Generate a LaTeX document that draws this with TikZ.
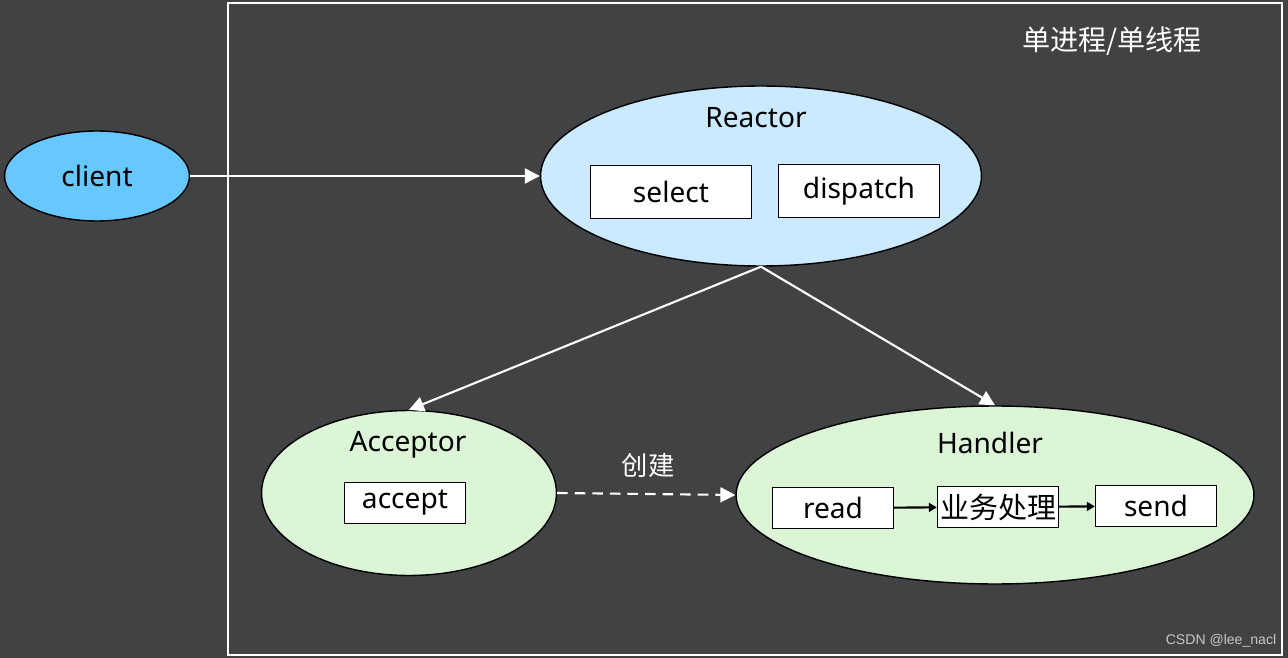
\documentclass[tikz,border=0pt]{standalone}
\usepackage{fontspec}
\setmainfont{Noto Sans}
\newfontfamily\cjk{Noto Sans CJK SC}
\newfontfamily\markfont{Liberation Sans}
\usetikzlibrary{arrows.meta,shapes.geometric,positioning}

\definecolor{bggray}{HTML}{414244}
\definecolor{clientblue}{HTML}{66C8FF}
\definecolor{reactorblue}{HTML}{CBEAFF}
\definecolor{workgreen}{HTML}{DCF5D7}

\begin{document}
\begin{tikzpicture}[x=0.02cm, y=-0.02cm,
		every node/.style={font=\fontsize{16}{19}\selectfont},
		blob/.style={ellipse, draw=black, line width=0.8pt, inner sep=0pt},
		box/.style={rectangle, draw=black, line width=0.8pt, fill=white, inner sep=0pt},
		bigbox/.style={box, minimum width=3.22cm, minimum height=1.06cm},
		smallbox/.style={box, minimum width=2.42cm, minimum height=0.82cm},
		flow/.style={draw=white, line width=1.2pt, -{Triangle[length=8.5pt,width=8.5pt]}},
		inner/.style={draw=black, line width=1.2pt, -{Triangle[length=4.5pt,width=5pt]}}]
		% background and frame
		\useasboundingbox (0,0) rectangle (1288,658);
		\fill[bggray] (0,0) rectangle (1288,658);
		\draw[white, line width=1.4pt] (228,3) rectangle (1282,655);
		\node[text=white, font=\cjk\fontsize{16}{19}\selectfont] (title) at (1112,41) {单进程/单线程};
		
		% ellipses
		\node[blob, fill=clientblue, minimum width=3.7cm, minimum height=1.8cm] (client) at (97,176) {client};
		\node[blob, fill=reactorblue, minimum width=8.82cm, minimum height=3.6cm] (reactor) at (761,176) {};
		\node[blob, fill=workgreen, minimum width=5.9cm, minimum height=3.3cm] (acceptor) at (409,493) {};
		\node[blob, fill=workgreen, minimum width=10.36cm, minimum height=3.56cm] (handler) at (995,495) {};
		
		% labels inside
		\node (reactorlbl) at (756,118) {Reactor};
		\node (acceptorlbl) at (408,445) {Acceptor};
		\node (handlerlbl) at (990,443) {Handler};
		
		% boxes
		\node[bigbox] (select) at (671,192) {select};
		\node[bigbox] (dispatch) at (859,191) {dispatch};
		\node[smallbox] (accept) at (405,503) {accept};
		\node[smallbox] (read) at (833,508) {read};
		\node[smallbox, font=\cjk\fontsize{16.5}{20}\selectfont] (work) at (998,507) {业务处理};
		\node[smallbox] (send) at (1156,506) {send};
		
		% connectors
		\draw[flow] (client) to (reactor);
		\draw[flow] (reactor.south) to (acceptor.north);
		\draw[flow] (reactor.south) to (handler.north);
		\draw[flow, dash pattern=on 6pt off 4pt] (acceptor.east) to (handler.west);
		\node[text=white, font=\cjk\fontsize{15}{18}\selectfont] (create) at (648,465) {创建};
		\draw[inner] (read) to (work);
		\draw[inner] (work) to (send);
		
		\node[text=black!22, font=\markfont\fontsize{8}{10}\selectfont] (mark) at (1221,641) {CSDN @lee\_nacl};
\end{tikzpicture}
\end{document}
